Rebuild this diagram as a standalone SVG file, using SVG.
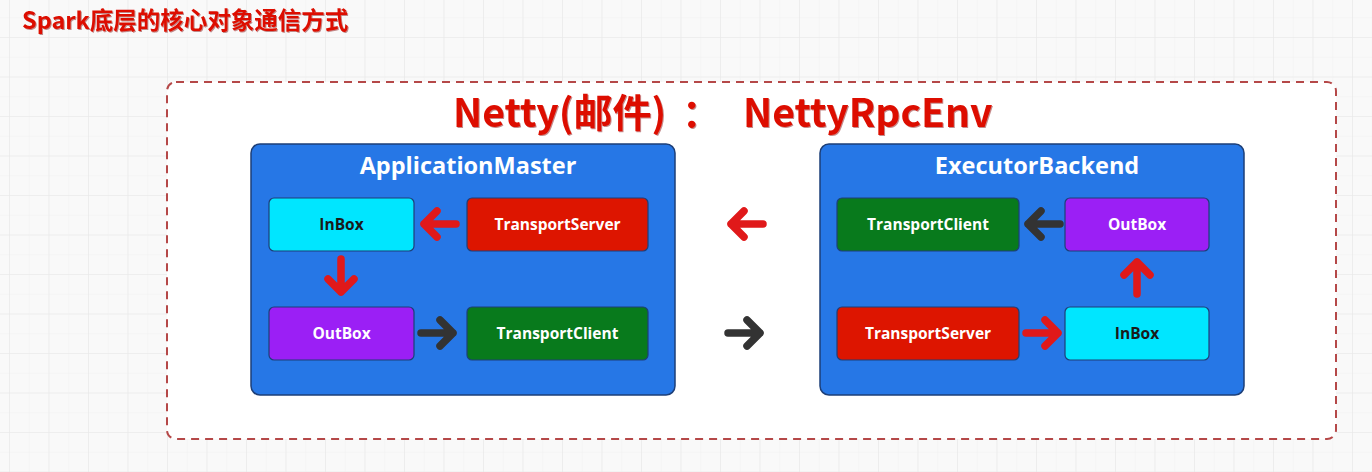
<svg xmlns="http://www.w3.org/2000/svg" width="1372" height="472" viewBox="0 0 1372 472">
<defs>
<pattern id="minor" x="9" y="37" width="19.75" height="19.75" patternUnits="userSpaceOnUse">
<path d="M0 0H19.75M0 0V19.75" fill="none" stroke="#f1f1f1" stroke-width="1"/>
</pattern>
<pattern id="major" x="9" y="37" width="39.5" height="39.5" patternUnits="userSpaceOnUse">
<path d="M0 0H39.5M0 0V39.5" fill="none" stroke="#e8e8e8" stroke-width="1.2"/>
</pattern>
<filter id="sh" x="-5%" y="-20%" width="110%" height="140%">
<feDropShadow dx="1" dy="1" stdDeviation="0.6" flood-color="#7a0000" flood-opacity="0.45"/>
</filter>
</defs>
<style>
.cont{fill:#2677e6;stroke:#1d3f78;stroke-width:1.5}
.ctitle{font-family:"Open Sans","Noto Sans",sans-serif;font-weight:bold;font-size:23.5px;fill:#ffffff;text-anchor:middle}
.box{stroke:#1d3f78;stroke-width:1.2}
.lbl{font-family:"Open Sans","Noto Sans",sans-serif;font-weight:bold;font-size:15.5px;text-anchor:middle}
.w{fill:#ffffff}
.k{fill:#1a1a1a}
.inbox{fill:#00e6ff}
.outbox{fill:#9b1ff5}
.server{fill:#dd1500}
.client{fill:#087a1c}
.ar{fill:none;stroke-width:7.5;stroke-linecap:round;stroke-linejoin:round}
.red{stroke:#e0191a}
.dark{stroke:#333333}
.title{font-family:"Noto Sans CJK SC","Noto Sans",sans-serif;font-weight:bold;fill:#dd1100}
</style>
<rect width="1372" height="472" fill="#f9f9f9"/>
<rect width="1372" height="472" fill="url(#minor)"/>
<rect width="1372" height="472" fill="url(#major)"/>
<text class="title" x="22" y="29" font-size="23.5" filter="url(#sh)">Spark底层的核心对象通信方式</text>
<rect x="167" y="82" width="1169" height="357" rx="9" fill="#ffffff" stroke="#b54848" stroke-width="2" stroke-dasharray="8,6"/>
<text class="title" y="127" font-size="39" filter="url(#sh)"><tspan x="453">Netty(邮件)</tspan><tspan x="682">：</tspan><tspan x="743">NettyRpcEnv</tspan></text>

<g id="applicationMaster">
<rect class="cont" x="251" y="144" width="424" height="251" rx="9"/>
<text class="ctitle" x="468" y="174">ApplicationMaster</text>
</g>
<g id="am-inbox">
<rect class="box inbox" x="269" y="198" width="145" height="53" rx="5"/>
<text class="lbl k" x="341.5" y="229.5">InBox</text>
</g>
<g id="am-transportServer">
<rect class="box server" x="467" y="198" width="181" height="53" rx="5"/>
<text class="lbl w" x="557.5" y="229.5">TransportServer</text>
</g>
<g id="am-outbox">
<rect class="box outbox" x="269" y="307" width="145" height="53" rx="5"/>
<text class="lbl w" x="341.5" y="338.5">OutBox</text>
</g>
<g id="am-transportClient">
<rect class="box client" x="467" y="307" width="181" height="53" rx="5"/>
<text class="lbl w" x="557.5" y="338.5">TransportClient</text>
</g>

<g id="executorBackend">
<rect class="cont" x="820" y="144" width="424" height="251" rx="9"/>
<text class="ctitle" x="1037" y="174">ExecutorBackend</text>
</g>
<g id="eb-transportClient">
<rect class="box client" x="837" y="198" width="182" height="53" rx="5"/>
<text class="lbl w" x="928" y="229.5">TransportClient</text>
</g>
<g id="eb-outbox">
<rect class="box outbox" x="1065" y="198" width="144" height="53" rx="5"/>
<text class="lbl w" x="1137" y="229.5">OutBox</text>
</g>
<g id="eb-transportServer">
<rect class="box server" x="837" y="307" width="182" height="53" rx="5"/>
<text class="lbl w" x="928" y="338.5">TransportServer</text>
</g>
<g id="eb-inbox">
<rect class="box inbox" x="1065" y="307" width="144" height="53" rx="5"/>
<text class="lbl k" x="1137" y="338.5">InBox</text>
</g>

<g id="connectors">
<path class="ar red" d="M456 224H424M437 211L424 224L437 237"/>
<path class="ar red" d="M341 259V292M328 279L341 292L354 279"/>
<path class="ar dark" d="M421 333H453M440 320L453 333L440 346"/>
<path class="ar red" d="M763 224H731M744 211L731 224L744 237"/>
<path class="ar dark" d="M728 333H760M747 320L760 333L747 346"/>
<path class="ar dark" d="M1060 224H1028M1041 211L1028 224L1041 237"/>
<path class="ar red" d="M1137 294V262M1124 275L1137 262L1150 275"/>
<path class="ar red" d="M1026 333H1058M1045 320L1058 333L1045 346"/>
</g>
</svg>
